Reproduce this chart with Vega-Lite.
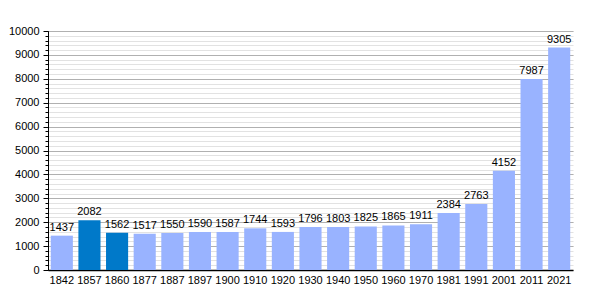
{
  "$schema": "https://vega.github.io/schema/vega-lite/v6.json",
  "autosize": {"type": "none"},
  "padding": {"left": 48, "top": 31, "right": 27, "bottom": 30},
  "width": 525,
  "height": 239,
  "background": "white",
  "config": {
    "view": {"stroke": null},
    "font": "Liberation Sans",
    "axis": {"labelFont": "Liberation Sans", "labelFontSize": 11, "labelColor": "#000", "titleFontSize": 11}
  },
  "data": {
    "values": [
      {"year": "1842", "pop": 1437, "kind": "a"},
      {"year": "1857", "pop": 2082, "kind": "b"},
      {"year": "1860", "pop": 1562, "kind": "b"},
      {"year": "1877", "pop": 1517, "kind": "a"},
      {"year": "1887", "pop": 1550, "kind": "a"},
      {"year": "1897", "pop": 1590, "kind": "a"},
      {"year": "1900", "pop": 1587, "kind": "a"},
      {"year": "1910", "pop": 1744, "kind": "a"},
      {"year": "1920", "pop": 1593, "kind": "a"},
      {"year": "1930", "pop": 1796, "kind": "a"},
      {"year": "1940", "pop": 1803, "kind": "a"},
      {"year": "1950", "pop": 1825, "kind": "a"},
      {"year": "1960", "pop": 1865, "kind": "a"},
      {"year": "1970", "pop": 1911, "kind": "a"},
      {"year": "1981", "pop": 2384, "kind": "a"},
      {"year": "1991", "pop": 2763, "kind": "a"},
      {"year": "2001", "pop": 4152, "kind": "a"},
      {"year": "2011", "pop": 7987, "kind": "a"},
      {"year": "2021", "pop": 9305, "kind": "a"}
    ]
  },
  "encoding": {
    "x": {
      "field": "year", "type": "ordinal", "sort": null,
      "scale": {"paddingInner": 0.2, "paddingOuter": 0.1},
      "axis": {"title": null, "labelAngle": 0, "ticks": false, "domainColor": "#000", "domainWidth": 1.5, "labelPadding": 4, "grid": false}
    },
    "y": {
      "field": "pop", "type": "quantitative",
      "scale": {"domain": [0, 10000], "nice": false}
    }
  },
  "layer": [
    {
      "mark": {"type": "bar"},
      "encoding": {
        "y": {
          "field": "pop", "type": "quantitative",
          "axis": {
            "title": null, "orient": "left",
            "values": [0,200,400,600,800,1000,1200,1400,1600,1800,2000,2200,2400,2600,2800,3000,3200,3400,3600,3800,4000,4200,4400,4600,4800,5000,5200,5400,5600,5800,6000,6200,6400,6600,6800,7000,7200,7400,7600,7800,8000,8200,8400,8600,8800,9000,9200,9400,9600,9800,10000],
            "labels": false, "grid": true, "gridColor": "#e2e2e2", "gridWidth": 1,
            "tickSize": 3, "tickColor": "#000", "domain": false
          }
        },
        "color": {
          "field": "kind", "type": "nominal",
          "scale": {"domain": ["a", "b"], "range": ["#99b3ff", "#0079c9"]},
          "legend": null
        }
      }
    },
    {
      "mark": {"type": "text", "baseline": "bottom", "dy": -3, "fontSize": 11, "color": "#000", "font": "Liberation Sans"},
      "encoding": {
        "y": {
          "field": "pop", "type": "quantitative",
          "axis": {
            "title": null, "orient": "left", "format": "d",
            "values": [0,1000,2000,3000,4000,5000,6000,7000,8000,9000,10000],
            "grid": true, "gridColor": "#b0b0b0", "gridWidth": 1,
            "tickSize": 5, "tickColor": "#000", "domainColor": "#000", "labelPadding": 4
          }
        },
        "text": {"field": "pop", "type": "quantitative", "format": "d"}
      }
    }
  ],
  "resolve": {"axis": {"y": "independent"}}
}
